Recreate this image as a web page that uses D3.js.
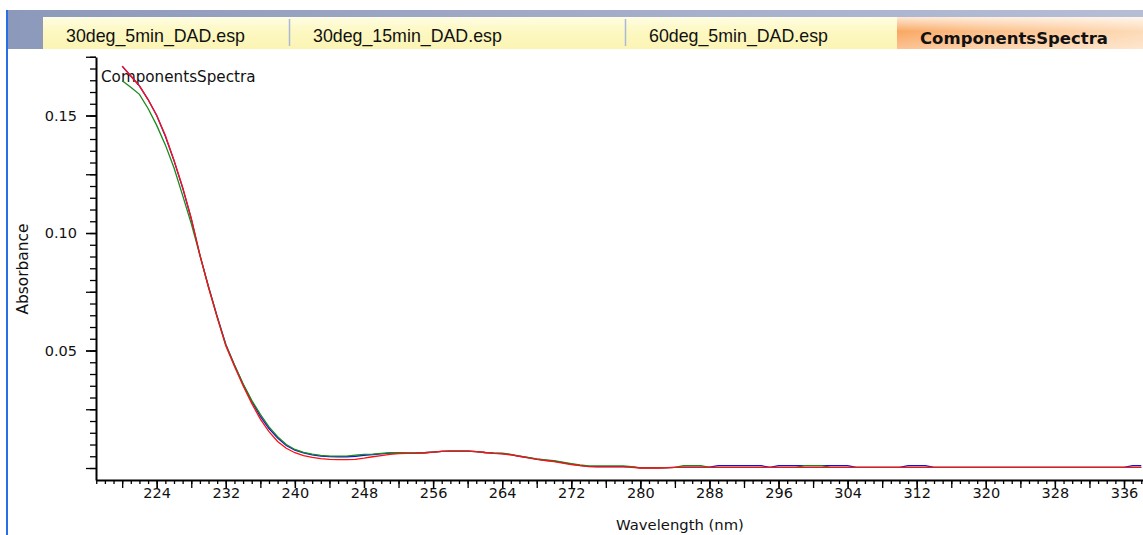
<!DOCTYPE html>
<html>
<head>
<meta charset="utf-8">
<script src="https://cdn.jsdelivr.net/npm/d3@7"></script>
<style>
  body { margin: 0; background: #fff; overflow: hidden; }
  svg { display: block; }
</style>
</head>
<body>
<svg id="chart" width="1143" height="535"></svg>
<script>
"use strict"

// tab strip
const tabNames = ["30deg_5min_DAD.esp", "30deg_15min_DAD.esp", "60deg_5min_DAD.esp", "ComponentsSpectra"]
const activeTab = 3

// spectra, one value per nm from 220 to 338
const wavelengths = d3.range(220, 339)
const redSeries = [
  0.1710, 0.1668, 0.1626, 0.1568, 0.1500, 0.1415, 0.1310, 0.1195, 0.1063, 0.0906,
  0.0768, 0.0641, 0.0520, 0.0433, 0.0350, 0.0275, 0.0208, 0.0155, 0.0113, 0.0084,
  0.0065, 0.0053, 0.0045, 0.0040, 0.0037, 0.0036, 0.0036, 0.0037, 0.0042, 0.0048,
  0.0053, 0.0058, 0.0061, 0.0062, 0.0063, 0.0065, 0.0068, 0.0071, 0.0072, 0.0072,
  0.0072, 0.0070, 0.0066, 0.0062, 0.0060, 0.0056, 0.0050, 0.0043, 0.0037, 0.0032,
  0.0027, 0.0021, 0.0015, 0.0010, 0.0006, 0.0005, 0.0005, 0.0005, 0.0005, 0.0003,
  0.0000, 0.0000, 0.0000, 0.0001, 0.0003, 0.0003, 0.0003, 0.0003, 0.0003, 0.0003,
  0.0003, 0.0003, 0.0003, 0.0003, 0.0003, 0.0003, 0.0003, 0.0003, 0.0003, 0.0003,
  0.0003, 0.0003, 0.0003, 0.0003, 0.0003, 0.0003, 0.0003, 0.0003, 0.0003, 0.0003,
  0.0003, 0.0003, 0.0003, 0.0003, 0.0003, 0.0003, 0.0003, 0.0003, 0.0003, 0.0003,
  0.0003, 0.0003, 0.0003, 0.0003, 0.0003, 0.0003, 0.0003, 0.0003, 0.0003, 0.0003,
  0.0003, 0.0003, 0.0003, 0.0003, 0.0003, 0.0003, 0.0003, 0.0003, 0.0003
]
const greenSeries = [
  0.1648, 0.1620, 0.1590, 0.1530, 0.1458, 0.1375, 0.1278, 0.1160, 0.1040, 0.0906,
  0.0770, 0.0643, 0.0525, 0.0438, 0.0358, 0.0288, 0.0228, 0.0175, 0.0133, 0.0100,
  0.0079, 0.0067, 0.0059, 0.0054, 0.0051, 0.0051, 0.0051, 0.0055, 0.0058, 0.0059,
  0.0062, 0.0065, 0.0065, 0.0064, 0.0064, 0.0065, 0.0068, 0.0071, 0.0072, 0.0072,
  0.0072, 0.0070, 0.0066, 0.0064, 0.0063, 0.0058, 0.0051, 0.0045, 0.0039, 0.0035,
  0.0031, 0.0025, 0.0019, 0.0013, 0.0009, 0.0009, 0.0009, 0.0009, 0.0009, 0.0006,
  0.0001, 0.0001, 0.0001, 0.0002, 0.0003, 0.0010, 0.0010, 0.0010, 0.0003, 0.0003,
  0.0003, 0.0003, 0.0003, 0.0003, 0.0003, 0.0003, 0.0003, 0.0003, 0.0003, 0.0010,
  0.0010, 0.0010, 0.0003, 0.0003, 0.0003, 0.0003, 0.0003, 0.0003, 0.0003, 0.0003,
  0.0003, 0.0003, 0.0003, 0.0003, 0.0003, 0.0003, 0.0003, 0.0003, 0.0003, 0.0003,
  0.0003, 0.0003, 0.0003, 0.0003, 0.0003, 0.0003, 0.0003, 0.0003, 0.0003, 0.0003,
  0.0003, 0.0003, 0.0003, 0.0003, 0.0003, 0.0003, 0.0003, 0.0003, 0.0003
]
const blueSeries = [
  0.1710, 0.1668, 0.1626, 0.1568, 0.1500, 0.1412, 0.1308, 0.1192, 0.1060, 0.0906,
  0.0772, 0.0645, 0.0526, 0.0438, 0.0356, 0.0284, 0.0220, 0.0168, 0.0128, 0.0096,
  0.0076, 0.0064, 0.0056, 0.0051, 0.0049, 0.0048, 0.0048, 0.0050, 0.0054, 0.0057,
  0.0060, 0.0063, 0.0064, 0.0063, 0.0063, 0.0065, 0.0068, 0.0071, 0.0072, 0.0072,
  0.0072, 0.0070, 0.0066, 0.0063, 0.0061, 0.0057, 0.0050, 0.0044, 0.0038, 0.0033,
  0.0029, 0.0023, 0.0017, 0.0011, 0.0007, 0.0006, 0.0006, 0.0006, 0.0006, 0.0005,
  0.0001, 0.0001, 0.0001, 0.0002, 0.0003, 0.0004, 0.0004, 0.0004, 0.0004, 0.0010,
  0.0010, 0.0010, 0.0010, 0.0010, 0.0010, 0.0003, 0.0010, 0.0010, 0.0010, 0.0010,
  0.0010, 0.0010, 0.0010, 0.0010, 0.0010, 0.0003, 0.0003, 0.0003, 0.0003, 0.0003,
  0.0003, 0.0010, 0.0010, 0.0010, 0.0003, 0.0003, 0.0003, 0.0003, 0.0003, 0.0003,
  0.0003, 0.0003, 0.0003, 0.0003, 0.0003, 0.0003, 0.0003, 0.0003, 0.0003, 0.0003,
  0.0003, 0.0003, 0.0003, 0.0003, 0.0003, 0.0003, 0.0003, 0.0010, 0.0010
]

// axis ticks
const xMinorTicks = d3.range(217, 339, 1)
const xMidTicks = d3.range(220, 339, 4)
const xLabelTicks = [224, 232, 240, 248, 256, 264, 272, 280, 288, 296, 304, 312, 320, 328, 336]
const yMinorTicks = d3.range(0, 36).map(i => i * 0.005)
const yMidTicks = [0, 0.025, 0.05, 0.075, 0.1, 0.125, 0.15, 0.175]
const yLabelTicks = [0.05, 0.10, 0.15]

const svg = d3.select("#chart")
const defs = svg.append("defs")

// ---- window chrome ----
const band = defs.append("linearGradient").attr("id", "band")
band.append("stop").attr("offset", "0%").attr("stop-color", "#8d99ba")
band.append("stop").attr("offset", "100%").attr("stop-color", "#b6bed6")

const yellow = defs.append("linearGradient").attr("id", "yellowTab")
    .attr("x1", 0).attr("y1", 0).attr("x2", 0).attr("y2", 1)
yellow.append("stop").attr("offset", "0%").attr("stop-color", "#fffde4")
yellow.append("stop").attr("offset", "45%").attr("stop-color", "#fdf8c2")
yellow.append("stop").attr("offset", "100%").attr("stop-color", "#fbf4b4")

const orange = defs.append("linearGradient").attr("id", "orangeTab")
orange.append("stop").attr("offset", "0%").attr("stop-color", "#f9a35a")
orange.append("stop").attr("offset", "35%").attr("stop-color", "#fbbc82")
orange.append("stop").attr("offset", "100%").attr("stop-color", "#fdd9b4")

const shine = defs.append("linearGradient").attr("id", "shine")
    .attr("x1", 0).attr("y1", 0).attr("x2", 0).attr("y2", 1)
shine.append("stop").attr("offset", "0%").attr("stop-color", "#fff").attr("stop-opacity", 0.75)
shine.append("stop").attr("offset", "45%").attr("stop-color", "#fff").attr("stop-opacity", 0.05)
shine.append("stop").attr("offset", "100%").attr("stop-color", "#fff").attr("stop-opacity", 0.35)

svg.append("rect").attr("x", 7).attr("y", 10).attr("width", 1136).attr("height", 39)
    .attr("fill", "url(#band)")

const tabX = d3.scaleOrdinal().domain(tabNames).range([43, 290, 626, 897])
const tabW = d3.scaleOrdinal().domain(tabNames).range([247, 336, 271, 246])

const tabs = svg.selectAll(".tab")
    .data(tabNames)
  .enter().append("g")
    .attr("class", "tab")
    .attr("transform", d => "translate(" + tabX(d) + ",17)")

tabs.append("rect")
    .attr("width", d => tabW(d))
    .attr("height", 32)
    .attr("fill", (d, i) => i === activeTab ? "url(#orangeTab)" : "url(#yellowTab)")
tabs.filter((d, i) => i === activeTab).append("rect")
    .attr("width", d => tabW(d)).attr("height", 32)
    .attr("fill", "url(#shine)")
tabs.filter((d, i) => i > 0 && i < activeTab).append("line")
    .attr("x1", -0.5).attr("x2", -0.5).attr("y1", 2).attr("y2", 29)
    .attr("stroke", "#a9bad8").attr("stroke-width", 1.5)

tabs.append("text")
    .attr("x", 23)
    .attr("y", (d, i) => i === activeTab ? 27 : 25)
    .attr("font-family", (d, i) => i === activeTab ? "DejaVu Sans" : "Liberation Sans, Arial")
    .attr("font-weight", (d, i) => i === activeTab ? "bold" : "normal")
    .attr("font-size", (d, i) => i === activeTab ? "16.5px" : "17.8px")
    .attr("fill", "#111")
    .text(d => d)

svg.append("line")
    .attr("x1", 7).attr("x2", 7).attr("y1", 10).attr("y2", 535)
    .attr("stroke", "#2a6ee6").attr("stroke-width", 2)

// ---- plot ----
const x = d3.scaleLinear().domain([216.97, 338.2]).range([96, 1143])
const y = d3.scaleLinear().domain([-0.0051, 0.1749]).range([480, 57])

const plot = svg.append("g")
    .attr("font-family", "DejaVu Sans")

function styleAxis(g, width) {
    g.selectAll(".tick line").attr("stroke", "#000").attr("stroke-width", 1.3)
    g.select(".domain").attr("stroke", "#000").attr("stroke-width", width)
    g.selectAll("text").attr("fill", "#111").attr("font-family", "DejaVu Sans").attr("font-size", "14.5px")
}

plot.append("g")
    .attr("transform", "translate(0,480)")
    .call(d3.axisBottom(x).tickValues(xMinorTicks).tickSize(4).tickSizeOuter(0).tickFormat(""))
    .call(g => { styleAxis(g, 0); g.select(".domain").remove() })
plot.append("g")
    .attr("transform", "translate(0,480)")
    .call(d3.axisBottom(x).tickValues(xMidTicks).tickSize(8).tickSizeOuter(0).tickFormat(""))
    .call(g => { styleAxis(g, 0); g.select(".domain").remove() })
plot.append("g")
    .attr("transform", "translate(0,480)")
    .call(d3.axisBottom(x).tickValues(xLabelTicks).tickSize(8).tickSizeOuter(0).tickPadding(0))
    .call(g => styleAxis(g, 2))

plot.append("g")
    .attr("transform", "translate(96,0)")
    .call(d3.axisLeft(y).tickValues(yMinorTicks).tickSize(6).tickSizeOuter(0).tickFormat(""))
    .call(g => { styleAxis(g, 0); g.select(".domain").remove() })
plot.append("g")
    .attr("transform", "translate(96,0)")
    .call(d3.axisLeft(y).tickValues(yMidTicks).tickSize(10).tickSizeOuter(0).tickFormat(""))
    .call(g => { styleAxis(g, 0); g.select(".domain").remove() })
plot.append("g")
    .attr("transform", "translate(96,0)")
    .call(d3.axisLeft(y).tickValues(yLabelTicks).tickSize(10).tickSizeOuter(0).tickPadding(9).tickFormat(d3.format(".2f")))
    .call(g => styleAxis(g, 2))

plot.append("text")
    .attr("x", 680).attr("y", 530)
    .attr("text-anchor", "middle")
    .attr("font-size", "14.8px")
    .attr("fill", "#111")
    .text("Wavelength (nm)")

plot.append("text")
    .attr("transform", "translate(28,269) rotate(-90)")
    .attr("text-anchor", "middle")
    .attr("font-size", "15.4px")
    .attr("fill", "#111")
    .text("Absorbance")

plot.append("text")
    .attr("x", 101).attr("y", 82)
    .attr("font-size", "15.2px")
    .attr("fill", "#111")
    .text("ComponentsSpectra")

const line = d3.line()
    .x((d, i) => x(wavelengths[i]))
    .y(d => y(d))

const series = [
    { name: "blue", color: "#1010ee", values: blueSeries },
    { name: "green", color: "#1a8a1a", values: greenSeries },
    { name: "red", color: "#ff1010", values: redSeries }
]

plot.selectAll(".spectrum")
    .data(series)
  .enter().append("path")
    .attr("class", "spectrum")
    .attr("d", d => line(d.values))
    .attr("fill", "none")
    .attr("stroke", d => d.color)
    .attr("stroke-width", 1.3)
</script>
</body>
</html>
